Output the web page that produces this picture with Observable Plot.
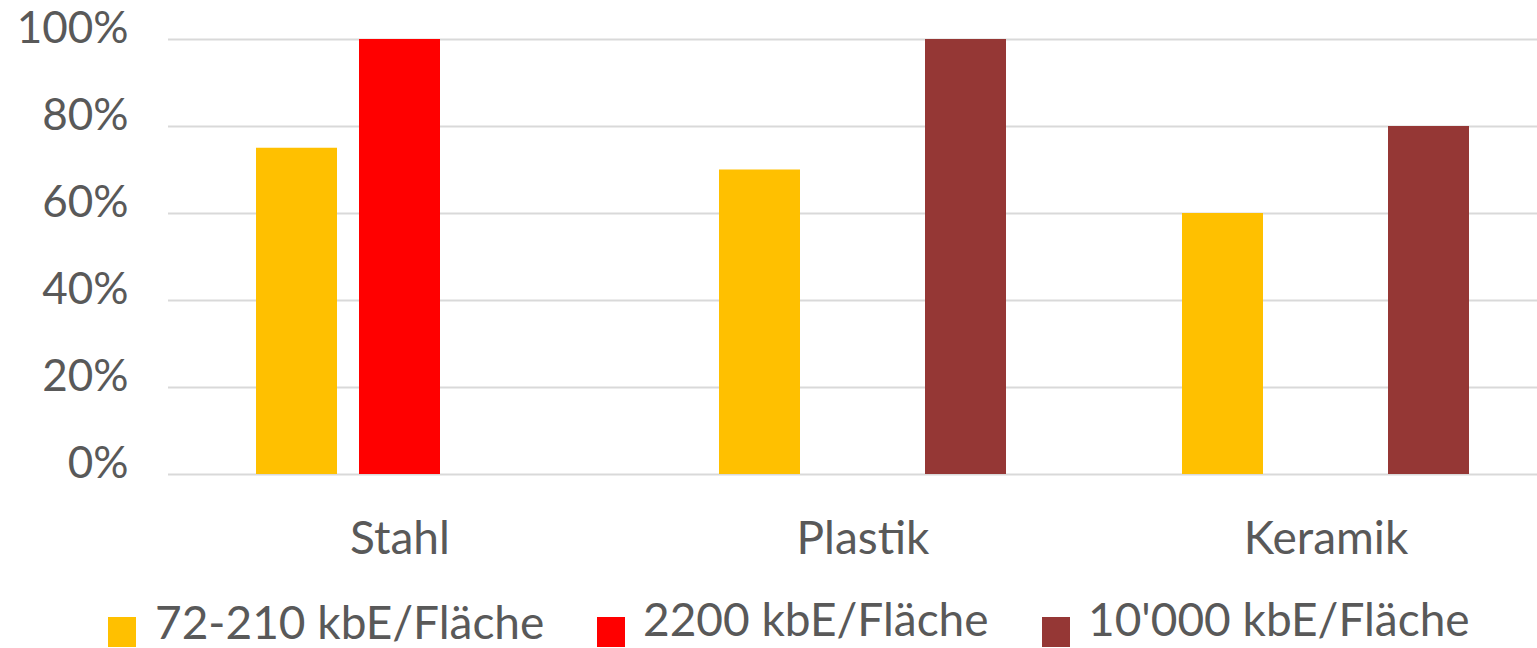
<!DOCTYPE html>
<html><head><meta charset="utf-8">
<script src="https://cdn.jsdelivr.net/npm/d3@7"></script>
<script src="https://cdn.jsdelivr.net/npm/@observablehq/plot@0.6"></script>
<style>
html,body{margin:0;padding:0;background:#fff;}
body{width:1537px;height:648px;overflow:hidden;font-family:Lato,"Noto Sans",sans-serif;color:#595959;}
#chart svg{display:block;}
#legend{position:relative;height:58px;}
.item{position:absolute;top:0;height:58px;}
.sw{position:absolute;width:28px;height:30px;top:27px;left:0;}
.lbl{position:absolute;left:46px;top:6px;font-size:46px;line-height:46px;white-space:nowrap;}
</style></head><body>
<div id="chart"></div>
<div id="legend"></div>
<script>
const categories = ["Stahl", "Plastik", "Keramik"];
const series = ["72-210 kbE/Fläche", "2200 kbE/Fläche", "10'000 kbE/Fläche"];
const colors = ["#FFC000", "#FF0000", "#953735"];
const stahlValues = [75, 100, null];
const plastikValues = [70, null, 100];
const keramikValues = [60, null, 80];
const yTicks = [0, 20, 40, 60, 80, 100];

const valuesByCategory = [stahlValues, plastikValues, keramikValues];
const rows = [];
categories.forEach((c, i) => {
  series.forEach((s, j) => {
    const v = valuesByCategory[i][j];
    if (v != null) rows.push({category: c, series: s, value: v});
  });
});

const chart = Plot.plot({
  width: 1537,
  height: 590,
  marginLeft: 168,
  marginRight: -20,
  marginTop: 39,
  marginBottom: 116,
  style: {fontFamily: "Lato, 'Noto Sans', sans-serif", fontSize: "44px", color: "#595959", background: "#fff"},
  fx: {domain: categories, padding: 0, label: null},
  x: {domain: series, paddingInner: 0.214, paddingOuter: 0.854, axis: null},
  y: {domain: [0, 100], label: null},
  color: {domain: series, range: colors},
  marks: [
    Plot.ruleY(yTicks, {stroke: "#D9D9D9", strokeWidth: 2}),
    Plot.barY(rows, {fx: "category", x: "series", y: "value", fill: "series"}),
    Plot.axisY(yTicks, {tickSize: 0, tickPadding: 40, tickFormat: d => d + "%", dy: -11, label: null, fill: "#595959"}),
    Plot.axisFx({anchor: "bottom", tickSize: 0, tickPadding: 47, label: null, fill: "#595959", fontSize: 46})
  ]
});
document.getElementById("chart").appendChild(chart);

const legendLefts = [108, 597, 1042];
const legend = document.getElementById("legend");
series.forEach((s, i) => {
  const it = document.createElement("div");
  it.className = "item";
  it.style.left = legendLefts[i] + "px";
  const sw = document.createElement("div");
  sw.className = "sw";
  sw.style.background = colors[i];
  const lb = document.createElement("div");
  lb.className = "lbl";
  lb.textContent = s;
  if (i === 0) { lb.style.top = "9px"; lb.style.left = "47px"; }
  it.appendChild(sw);
  it.appendChild(lb);
  legend.appendChild(it);
});
</script>
</body></html>
